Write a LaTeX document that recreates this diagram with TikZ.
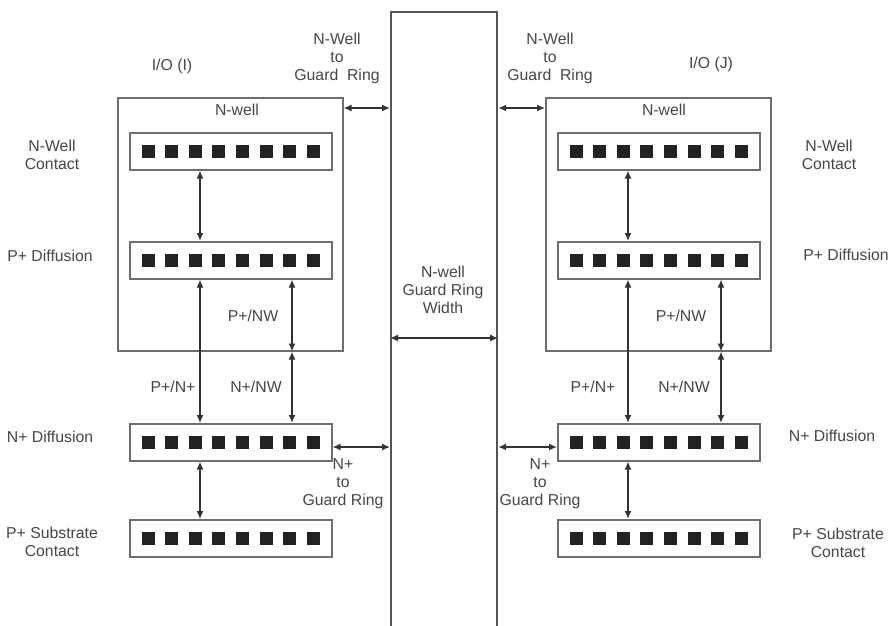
\documentclass[tikz,border=0pt]{standalone}
\usepackage{fontspec}
\setmainfont{Liberation Sans}
\usetikzlibrary{arrows.meta,calc}
\definecolor{txt}{HTML}{474747}
\definecolor{ln}{HTML}{6E6E6E}
\definecolor{dk}{HTML}{333333}
\definecolor{gr}{HTML}{555555}
\definecolor{sq}{HTML}{222222}
\begin{document}
\begin{tikzpicture}[x=1pt,y=-1pt,
 lbl/.style={text=txt,font=\fontsize{15.8}{18}\selectfont,align=center,inner sep=0pt},
 iobox/.style={draw=ln,line width=1.5pt,minimum width=225pt,minimum height=253pt,inner sep=0pt,anchor=north west},
 row/.style={draw=ln,line width=1.5pt,minimum width=202pt,minimum height=37pt,inner sep=0pt,anchor=north west},
 ring/.style={draw=gr,line width=2.2pt,minimum width=106pt,minimum height=640pt,inner sep=0pt,anchor=north west},
 dim/.style={draw=dk,line width=1.5pt,{Latex[length=8pt,width=7pt]}-{Latex[length=8pt,width=7pt]}},
 cont/.style={fill=sq,minimum size=13pt,inner sep=0pt}]
\useasboundingbox (0,0) rectangle (889,626);
\clip (0,0) rectangle (889,626);
\fill[white] (0,0) rectangle (889,626);

% guard ring
\node[ring] (ring) at (390,11) {};

% I/O boxes
\node[iobox] (Lbox) at (117,97) {};
\node[iobox] (Rbox) at (545,97) {};

% rows
\node[row] (L1) at (129,132) {};
\node[row] (L2) at (129,241) {};
\node[row] (L3) at (129,423) {};
\node[row] (L4) at (129,519) {};
\node[row] (R1) at (557,132) {};
\node[row] (R2) at (557,241) {};
\node[row] (R3) at (557,423) {};
\node[row] (R4) at (557,519) {};

\foreach \r in {L1,L2,L3,L4,R1,R2,R3,R4}{
  \foreach \i in {0,...,7}{
    \node[cont] at ($(\r.west)+(19+23.6*\i,0)$) {};
  }
}

% helper coordinates
\coordinate (La) at (200,0);
\coordinate (Lb) at (292,0);
\coordinate (Ra) at (628,0);
\coordinate (Rb) at (721,0);
\coordinate (ny) at (0,108);
\coordinate (py) at (0,447);
\coordinate (wy) at (0,338);

% vertical dimension arrows, left
\draw[dim] (L1.south -| La) -- (L2.north -| La);
\draw[dim] (L2.south -| La) -- (L3.north -| La);
\draw[dim] (L2.south -| Lb) -- (Lbox.south -| Lb);
\draw[dim] (Lbox.south -| Lb) -- (L3.north -| Lb);
\draw[dim] (L3.south -| La) -- (L4.north -| La);
% right
\draw[dim] (R1.south -| Ra) -- (R2.north -| Ra);
\draw[dim] (R2.south -| Ra) -- (R3.north -| Ra);
\draw[dim] (R2.south -| Rb) -- (Rbox.south -| Rb);
\draw[dim] (Rbox.south -| Rb) -- (R3.north -| Rb);
\draw[dim] (R3.south -| Ra) -- (R4.north -| Ra);

% horizontal arrows
\draw[dim] (Lbox.east |- ny) -- (ring.west |- ny);
\draw[dim] (ring.east |- ny) -- (Rbox.west |- ny);
\draw[dim] (L3.east |- py) -- (ring.west |- py);
\draw[dim] (ring.east |- py) -- (R3.west |- py);
\draw[dim] (ring.west |- wy) -- (ring.east |- wy);

% labels left
\node[lbl] (tIOI) at (172,66) {I/O (I)};
\node[lbl] (tNWL) at (237,110) {N-well};
\node[lbl] (tNWGL) at (337,58) {N-Well\\to\\Guard\ \ Ring};
\node[lbl] (tNWCL) at (52,155) {N-Well\\Contact};
\node[lbl] (tPDL) at (50,256) {P+ Diffusion};
\node[lbl] (tPNWL) at (253,316) {P+/NW};
\node[lbl] (tPNL) at (173,387) {P+/N+};
\node[lbl] (tNNWL) at (256,387) {N+/NW};
\node[lbl] (tNDL) at (50,437) {N+ Diffusion};
\node[lbl] (tNGL) at (343,484) {N+\\to\\Guard Ring};
\node[lbl] (tPSL) at (52,542) {P+ Substrate\\Contact};

% centre
\node[lbl] (tGRW) at (443,290) {N-well\\Guard Ring\\Width};

% labels right
\node[lbl] (tIOJ) at (711,64) {I/O (J)};
\node[lbl] (tNWR) at (664,110) {N-well};
\node[lbl] (tNWGR) at (550,58) {N-Well\\to\\Guard\ \ Ring};
\node[lbl] (tNWCR) at (829,155) {N-Well\\Contact};
\node[lbl] (tPDR) at (846,255) {P+ Diffusion};
\node[lbl] (tPNWR) at (681,316) {P+/NW};
\node[lbl] (tPNR) at (593,387) {P+/N+};
\node[lbl] (tNNWR) at (684,387) {N+/NW};
\node[lbl] (tNDR) at (832,436) {N+ Diffusion};
\node[lbl] (tNGR) at (540,484) {N+\\to\\Guard Ring};
\node[lbl] (tPSR) at (838,543) {P+ Substrate\\Contact};
\end{tikzpicture}
\end{document}
